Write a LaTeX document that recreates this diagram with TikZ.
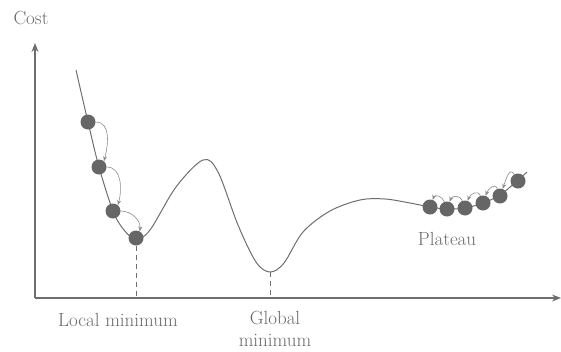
\documentclass[tikz,border=0pt]{standalone}
\usetikzlibrary{arrows.meta}
\definecolor{ln}{HTML}{6E6E6E}
\definecolor{dt}{HTML}{666666}
\definecolor{tx}{HTML}{6A6A6A}
\begin{document}
\begin{tikzpicture}[x=1pt,y=-1pt,
  ball/.style={circle,fill=dt,inner sep=0pt,minimum size=15pt},
  hop/.style={draw=ln!80,line width=0.6pt,-{Stealth[length=5pt,width=4pt]}},
  lbl/.style={text=tx,font=\fontsize{19}{22}\selectfont,align=center},
  axis/.style={draw=ln,line width=1.2pt,-{Stealth[length=9pt,width=7pt]}}]
\useasboundingbox (0,0) rectangle (561,351);
\coordinate (o) at (35,298);
\coordinate (ytop) at (35,43);
\coordinate (xend) at (561,298);
\draw[axis] (o) -- (ytop);
\draw[axis] (o) -- (xend);
\coordinate (gmin) at (270,272);
\draw[ln,line width=1pt] plot[smooth,tension=0.55] coordinates {
 (76,70) (88,122) (99,167) (113,211) (124,230) (136,239) (150,230)
 (176,187) (203,160) (218,172) (238,225) (256,262) (270,272) (284,263)
 (303,232) (330,211) (360,200) (385,199) (410,203) (430,207) (447,209)
 (465,208) (483,203) (500,195) (517,181) (527,172)};
\node[ball] (d1) at (88,122) {};
\node[ball] (d2) at (99,167) {};
\node[ball] (d3) at (113,211) {};
\node[ball] (d4) at (136,238) {};
\node[ball] (p1) at (430,207) {};
\node[ball] (p2) at (447,209) {};
\node[ball] (p3) at (465,208) {};
\node[ball] (p4) at (483,203) {};
\node[ball] (p5) at (500,196) {};
\node[ball] (p6) at (518,181) {};
\draw[hop] (d1.east) to[out=0,in=75] (d2.50);
\draw[hop] (d2.east) to[out=0,in=75] (d3.50);
\draw[hop] (d3.east) to[out=0,in=85] (d4.60);
\draw[hop] (p2.110) to[out=110,in=70,looseness=1.3] (p1.70);
\draw[hop] (p3.110) to[out=110,in=70,looseness=1.3] (p2.70);
\draw[hop] (p4.110) to[out=110,in=70,looseness=1.3] (p3.70);
\draw[hop] (p5.110) to[out=110,in=70,looseness=1.3] (p4.70);
\draw[hop] (p6.120) to[out=120,in=70,looseness=1.3] (p5.70);
\draw[ln,line width=0.9pt,dash pattern=on 5pt off 4pt] (d4.south) -- (d4.south |- o);
\draw[ln,line width=0.9pt,dash pattern=on 5pt off 4pt] (gmin) -- (gmin |- o);
\node[lbl] (cost) at (31,18) {Cost};
\node[lbl] (lm) at (118,320) {Local minimum};
\node[lbl] (gm) at (275,329) {Global\\minimum};
\node[lbl] (pl) at (447,239) {Plateau};
\end{tikzpicture}
\end{document}
